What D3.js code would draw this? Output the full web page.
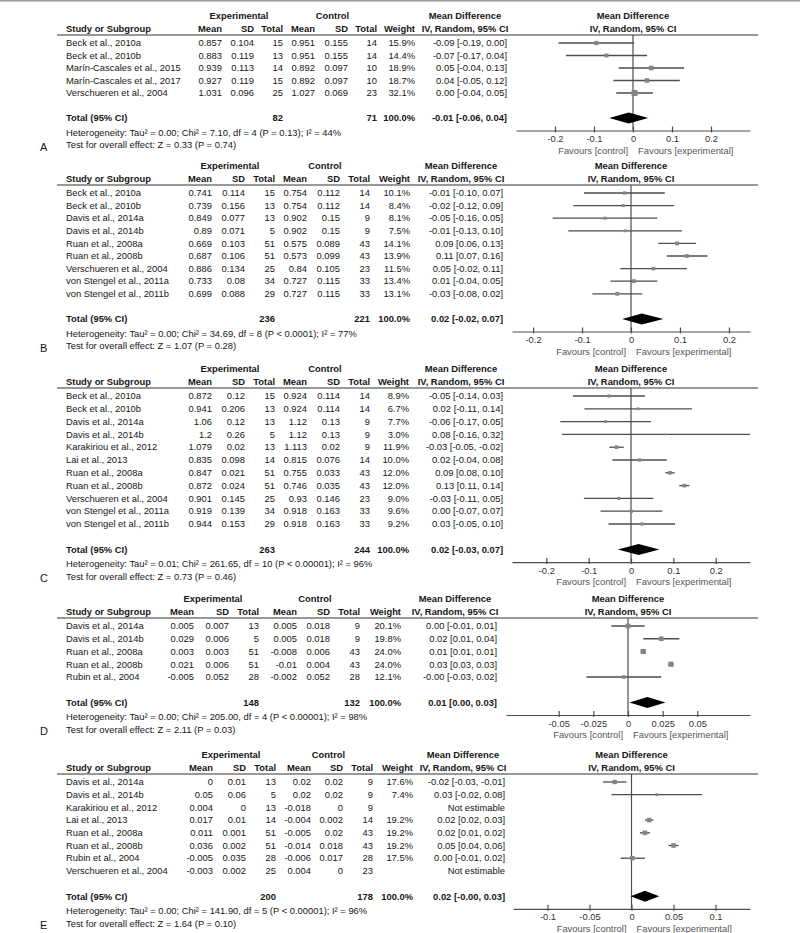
<!DOCTYPE html>
<html>
<head>
<meta charset="utf-8">
<script src="https://cdn.jsdelivr.net/npm/d3@7"></script>
<style>
body { margin: 0; background: #fff; }
svg text { font-family: "Liberation Sans", Arial, sans-serif; font-size: 9.4px; fill: #161616; }
</style>
</head>
<body>
<div id="vis"></div>
<script>
////////// data: panel A //////////
var studiesA = ["Beck et al., 2010a", "Beck et al., 2010b", "Marín-Cascales et al., 2015", "Marín-Cascales et al., 2017", "Verschueren et al., 2004"];
var expMeanA = [0.857, 0.883, 0.939, 0.927, 1.031];
var expSdA   = [0.104, 0.119, 0.113, 0.119, 0.096];
var expNA    = [15, 13, 14, 15, 25];
var ctlMeanA = [0.951, 0.951, 0.892, 0.892, 1.027];
var ctlSdA   = [0.155, 0.155, 0.097, 0.097, 0.069];
var ctlNA    = [14, 14, 10, 10, 23];
var weightA  = [15.9, 14.4, 18.9, 18.7, 32.1];
var mdA      = [-0.094, -0.068, 0.047, 0.036, 0.004];
var loA      = [-0.191, -0.172, -0.037, -0.050, -0.043];
var hiA      = [0.003, 0.036, 0.131, 0.120, 0.051];
var totalNA  = [82, 71];
var pooledA  = [-0.011, -0.061, 0.039];
var hetA  = "Heterogeneity: Tau² = 0.00; Chi² = 7.10, df = 4 (P = 0.13); I² = 44%";
var testA = "Test for overall effect: Z = 0.33 (P = 0.74)";
var ticksA = [-0.2, -0.1, 0, 0.1, 0.2];

////////// data: panel B //////////
var studiesB = ["Beck et al., 2010a", "Beck et al., 2010b", "Davis et al., 2014a", "Davis et al., 2014b", "Ruan et al., 2008a", "Ruan et al., 2008b", "Verschueren et al., 2004", "von Stengel et al., 2011a", "von Stengel et al., 2011b"];
var expMeanB = [0.741, 0.739, 0.849, 0.89, 0.669, 0.687, 0.886, 0.733, 0.699];
var expSdB   = [0.114, 0.156, 0.077, 0.071, 0.103, 0.106, 0.134, 0.08, 0.088];
var expNB    = [15, 13, 13, 5, 51, 51, 25, 34, 29];
var ctlMeanB = [0.754, 0.754, 0.902, 0.902, 0.575, 0.573, 0.84, 0.727, 0.727];
var ctlSdB   = [0.112, 0.112, 0.15, 0.15, 0.089, 0.099, 0.105, 0.115, 0.115];
var ctlNB    = [14, 14, 9, 9, 43, 43, 23, 33, 33];
var weightB  = [10.1, 8.4, 8.1, 7.5, 14.1, 13.9, 11.5, 13.4, 13.1];
var mdB      = [-0.013, -0.016, -0.053, -0.012, 0.094, 0.114, 0.046, 0.006, -0.028];
var loB      = [-0.096, -0.118, -0.160, -0.128, 0.056, 0.073, -0.022, -0.042, -0.079];
var hiB      = [0.069, 0.088, 0.054, 0.104, 0.133, 0.156, 0.114, 0.054, 0.023];
var totalNB  = [236, 221];
var pooledB  = [0.022, -0.018, 0.066];
var hetB  = "Heterogeneity: Tau² = 0.00; Chi² = 34.69, df = 8 (P < 0.0001); I² = 77%";
var testB = "Test for overall effect: Z = 1.07 (P = 0.28)";
var ticksB = [-0.2, -0.1, 0, 0.1, 0.2];

////////// data: panel C //////////
var studiesC = ["Beck et al., 2010a", "Beck et al., 2010b", "Davis et al., 2014a", "Davis et al., 2014b", "Karakiriou et al., 2012", "Lai et al., 2013", "Ruan et al., 2008a", "Ruan et al., 2008b", "Verschueren et al., 2004", "von Stengel et al., 2011a", "von Stengel et al., 2011b"];
var expMeanC = [0.872, 0.941, 1.06, 1.2, 1.079, 0.835, 0.847, 0.872, 0.901, 0.919, 0.944];
var expSdC   = [0.12, 0.206, 0.12, 0.26, 0.02, 0.098, 0.021, 0.024, 0.145, 0.139, 0.153];
var expNC    = [15, 13, 13, 5, 13, 14, 51, 51, 25, 34, 29];
var ctlMeanC = [0.924, 0.924, 1.12, 1.12, 1.113, 0.815, 0.755, 0.746, 0.93, 0.918, 0.918];
var ctlSdC   = [0.114, 0.114, 0.13, 0.13, 0.02, 0.076, 0.033, 0.035, 0.146, 0.163, 0.163];
var ctlNC    = [14, 14, 9, 9, 9, 14, 43, 43, 23, 33, 33];
var weightC  = [8.9, 6.7, 7.7, 3.0, 11.9, 10.0, 12.0, 12.0, 9.0, 9.6, 9.2];
var mdC      = [-0.052, 0.017, -0.06, 0.08, -0.034, 0.02, 0.092, 0.126, -0.029, 0.001, 0.026];
var loC      = [-0.137, -0.110, -0.167, -0.163, -0.051, -0.044, 0.081, 0.114, -0.111, -0.072, -0.053];
var hiC      = [0.033, 0.144, 0.047, 0.323, -0.017, 0.084, 0.103, 0.138, 0.053, 0.074, 0.104];
var totalNC  = [263, 244];
var pooledC  = [0.018, -0.031, 0.067];
var hetC  = "Heterogeneity: Tau² = 0.01; Chi² = 261.65, df = 10 (P < 0.00001); I² = 96%";
var testC = "Test for overall effect: Z = 0.73 (P = 0.46)";
var ticksC = [-0.2, -0.1, 0, 0.1, 0.2];

////////// data: panel D //////////
var studiesD = ["Davis et al., 2014a", "Davis et al., 2014b", "Ruan et al., 2008a", "Ruan et al., 2008b", "Rubin et al., 2004"];
var expMeanD = [0.005, 0.029, 0.003, 0.021, -0.005];
var expSdD   = [0.007, 0.006, 0.003, 0.006, 0.052];
var expND    = [13, 5, 51, 51, 28];
var ctlMeanD = [0.005, 0.005, -0.008, -0.01, -0.002];
var ctlSdD   = [0.018, 0.018, 0.006, 0.004, 0.052];
var ctlND    = [9, 9, 43, 43, 28];
var weightD  = [20.1, 19.8, 24.0, 24.0, 12.1];
var mdD      = [0, 0.024, 0.011, 0.031, -0.003];
var loD      = [-0.012, 0.011, 0.009, 0.029, -0.030];
var hiD      = [0.012, 0.037, 0.013, 0.033, 0.024];
var totalND  = [148, 132];
var pooledD  = [0.014, 0.001, 0.027];
var hetD  = "Heterogeneity: Tau² = 0.00; Chi² = 205.00, df = 4 (P < 0.00001); I² = 98%";
var testD = "Test for overall effect: Z = 2.11 (P = 0.03)";
var ticksD = [-0.05, -0.025, 0, 0.025, 0.05];

////////// data: panel E //////////
var studiesE = ["Davis et al., 2014a", "Davis et al., 2014b", "Karakiriou et al., 2012", "Lai et al., 2013", "Ruan et al., 2008a", "Ruan et al., 2008b", "Rubin et al., 2004", "Verschueren et al., 2004"];
var expMeanE = [0, 0.05, 0.004, 0.017, 0.011, 0.036, -0.005, -0.003];
var expSdE   = [0.01, 0.06, 0, 0.01, 0.001, 0.002, 0.035, 0.002];
var expNE    = [13, 5, 13, 14, 51, 51, 28, 25];
var ctlMeanE = [0.02, 0.02, -0.018, -0.004, -0.005, -0.014, -0.006, 0.004];
var ctlSdE   = [0.02, 0.02, 0, 0.002, 0.02, 0.018, 0.017, 0];
var ctlNE    = [9, 9, 9, 14, 43, 43, 28, 23];
var weightE  = [17.6, 7.4, null, 19.2, 19.2, 19.2, 17.5, null];
var mdE      = [-0.02, 0.03, null, 0.021, 0.016, 0.05, 0.001, null];
var loE      = [-0.034, -0.024, null, 0.016, 0.010, 0.044, -0.013, null];
var hiE      = [-0.006, 0.084, null, 0.026, 0.022, 0.056, 0.016, null];
var totalNE  = [200, 178];
var pooledE  = [0.016, -0.001, 0.033];
var hetE  = "Heterogeneity: Tau² = 0.00; Chi² = 141.90, df = 5 (P < 0.00001); I² = 96%";
var testE = "Test for overall effect: Z = 1.64 (P = 0.10)";
var ticksE = [-0.1, -0.05, 0, 0.05, 0.1];

var panelLetters = ["A", "B", "C", "D", "E"];

////////// panels built from the arrays above //////////
function rows(s, em, es, en, cm, cs, cn, w, md, lo, hi) {
  return s.map(function(name, i) {
    return { name: name, em: em[i], es: es[i], en: en[i], cm: cm[i], cs: cs[i], cn: cn[i],
             w: w[i], md: md[i], lo: lo[i], hi: hi[i] };
  });
}

var panels = [
  { rows: rows(studiesA, expMeanA, expSdA, expNA, ctlMeanA, ctlSdA, ctlNA, weightA, mdA, loA, hiA),
    totalN: totalNA, pooled: pooledA, het: hetA, test: testA, ticks: ticksA },
  { rows: rows(studiesB, expMeanB, expSdB, expNB, ctlMeanB, ctlSdB, ctlNB, weightB, mdB, loB, hiB),
    totalN: totalNB, pooled: pooledB, het: hetB, test: testB, ticks: ticksB },
  { rows: rows(studiesC, expMeanC, expSdC, expNC, ctlMeanC, ctlSdC, ctlNC, weightC, mdC, loC, hiC),
    totalN: totalNC, pooled: pooledC, het: hetC, test: testC, ticks: ticksC },
  { rows: rows(studiesD, expMeanD, expSdD, expND, ctlMeanD, ctlSdD, ctlND, weightD, mdD, loD, hiD),
    totalN: totalND, pooled: pooledD, het: hetD, test: testD, ticks: ticksD },
  { rows: rows(studiesE, expMeanE, expSdE, expNE, ctlMeanE, ctlSdE, ctlNE, weightE, mdE, loE, hiE),
    totalN: totalNE, pooled: pooledE, het: hetE, test: testE, ticks: ticksE }
];

// layout: top of each panel, column right edges, axis pixel range and visible domain
var layout = [
  { y0: 16,  step: 12.5,  cols: [222, 254, 283, 315, 348, 377, 415, 507], ax: [516, 750], dom: [-0.3, 0.3] },
  { y0: 166, step: 12.6,  cols: [212, 245, 275, 307, 340, 370, 410, 503], ax: [512, 750], dom: [-0.243, 0.243] },
  { y0: 369, step: 12.8,  cols: [212, 245, 275, 307, 340, 370, 409, 503], ax: [512, 750], dom: [-0.281, 0.281] },
  { y0: 599, step: 12.75, cols: [194, 229, 259, 297, 330, 360, 401, 497], ax: [506, 750], dom: [-0.088, 0.088] },
  { y0: 755, step: 12.7,  cols: [213, 246, 276, 311, 343, 373, 413, 505], ax: [513, 750], dom: [-0.141, 0.141] }
];

var width = 800, height = 933;
var lineCol = "#4d4d4d", boxCol = "#858585";

var svg = d3.select("#vis").append("svg")
    .attr("width", width)
    .attr("height", height);

svg.append("rect")
    .attr("x", 0).attr("y", 0)
    .attr("width", width).attr("height", 1.5)
    .attr("fill", "#9a9a9a");

function txt(g, x, y, s, anchor, bold) {
  return g.append("text")
      .attr("x", x).attr("y", y).attr("dy", "0.35em")
      .attr("text-anchor", anchor || "start")
      .style("font-weight", bold ? "bold" : "normal")
      .text(s);
}

function f2(v) { return v.toFixed(2); }
function ciText(md, lo, hi) { return f2(md) + " [" + f2(lo) + ", " + f2(hi) + "]"; }

panels.forEach(function(p, k) {
  var L = layout[k], c = L.cols;
  var g = svg.append("g").attr("class", "panel");

  var x = d3.scaleLinear().domain(L.dom).range(L.ax).clamp(true);

  var yHead = L.y0 + 13,
      yRule = L.y0 + 19,
      yRow0 = L.y0 + 27,
      yLast = yRow0 + (p.rows.length - 1) * L.step,
      yTotal = yLast + 2 * L.step,
      yAxis = yTotal + 12.5,
      yHet = yTotal + 14.5,
      yTest = yTotal + 27;

  // group headers
  txt(g, (c[0] - 27 + c[2]) / 2, L.y0, "Experimental", "middle", true);
  txt(g, (c[3] - 27 + c[5]) / 2, L.y0, "Control", "middle", true);
  txt(g, c[7] - 42, L.y0, "Mean Difference", "middle", true);
  txt(g, x(0), L.y0, "Mean Difference", "middle", true);

  // column headers
  txt(g, 66, yHead, "Study or Subgroup", "start", true);
  ["Mean", "SD", "Total", "Mean", "SD", "Total", "Weight"].forEach(function(h, i) {
    txt(g, c[i], yHead, h, "end", true);
  });
  txt(g, c[7] - 42, yHead, "IV, Random, 95% CI", "middle", true);
  txt(g, x(0), yHead, "IV, Random, 95% CI", "middle", true);

  g.append("line")
      .attr("x1", 57).attr("x2", 758)
      .attr("y1", yRule).attr("y2", yRule)
      .attr("stroke", "#333").attr("stroke-width", 1);

  // zero line
  g.append("line")
      .attr("x1", x(0)).attr("x2", x(0))
      .attr("y1", yRule).attr("y2", yAxis)
      .attr("stroke", lineCol).attr("stroke-width", 1.2);

  // study rows
  p.rows.forEach(function(r, i) {
    var y = yRow0 + i * L.step;
    txt(g, 66, y, r.name);
    [r.em, r.es, r.en, r.cm, r.cs, r.cn].forEach(function(v, j) {
      txt(g, c[j], y, String(v), "end");
    });
    if (r.md === null) {
      txt(g, c[7], y, "Not estimable", "end");
      return;
    }
    txt(g, c[6], y, r.w.toFixed(1) + "%", "end");
    txt(g, c[7], y, ciText(r.md, r.lo, r.hi), "end");

    g.append("line")
        .attr("x1", x(r.lo)).attr("x2", x(r.hi))
        .attr("y1", y).attr("y2", y)
        .attr("stroke", lineCol).attr("stroke-width", 1.3);

    var s = 1.05 * Math.sqrt(r.w);
    g.append("rect")
        .attr("x", x(r.md) - s / 2).attr("y", y - s / 2)
        .attr("width", s).attr("height", s)
        .attr("fill", boxCol);
  });

  // total row
  txt(g, 66, yTotal, "Total (95% CI)", "start", true);
  txt(g, c[2], yTotal, String(p.totalN[0]), "end", true);
  txt(g, c[5], yTotal, String(p.totalN[1]), "end", true);
  txt(g, c[6], yTotal, "100.0%", "end", true);
  txt(g, c[7], yTotal, ciText(p.pooled[0], p.pooled[1], p.pooled[2]), "end", true);

  var dh = 5.5;
  g.append("path")
      .attr("d", "M" + x(p.pooled[1]) + "," + yTotal +
                 "L" + x(p.pooled[0]) + "," + (yTotal - dh) +
                 "L" + x(p.pooled[2]) + "," + yTotal +
                 "L" + x(p.pooled[0]) + "," + (yTotal + dh) + "Z")
      .attr("fill", "#000");

  txt(g, 66, yHet, p.het);
  txt(g, 66, yTest, p.test);

  g.append("text")
      .attr("x", 40).attr("y", yTest + 2).attr("dy", "0.35em")
      .style("font-size", "11px")
      .text(panelLetters[k]);

  // axis
  var axis = g.append("g")
      .attr("transform", "translate(0," + yAxis + ")")
      .call(d3.axisBottom(x)
          .tickValues(p.ticks)
          .tickSizeOuter(0)
          .tickSizeInner(2)
          .tickPadding(3)
          .tickFormat(function(d) { return String(d); }));

  axis.select(".domain").attr("stroke", lineCol).attr("stroke-width", 1.2);
  axis.selectAll(".tick line").attr("y1", -4).attr("stroke", lineCol).attr("stroke-width", 1.2);
  axis.selectAll(".tick text")
      .attr("font-size", null).attr("font-family", null)
      .style("fill", "#333");

  txt(g, x(0) - 5, yAxis + 20, "Favours [control]", "end").style("fill", "#555");
  txt(g, x(0) + 5, yAxis + 20, "Favours [experimental]", "start").style("fill", "#555");
});
</script>
</body>
</html>
